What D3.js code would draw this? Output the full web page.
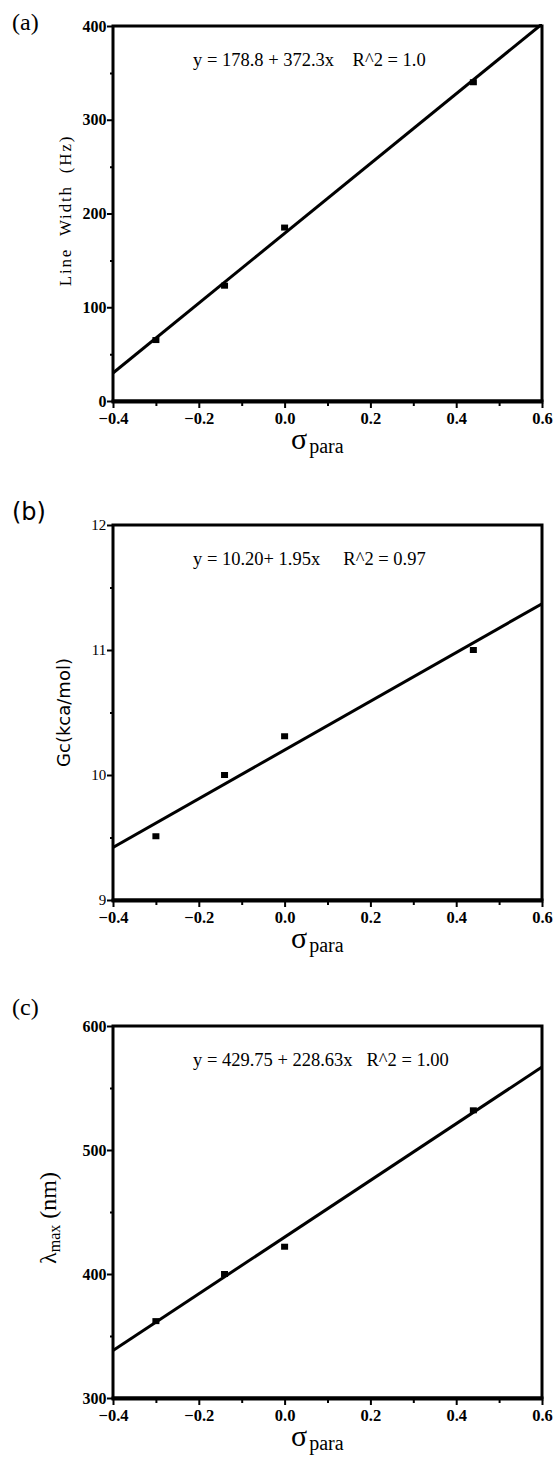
<!DOCTYPE html>
<html>
<head>
<meta charset="utf-8">
<script src="https://cdn.jsdelivr.net/npm/d3@7"></script>
<style>
html,body{margin:0;padding:0;background:#fff;}
svg{display:block;}
text{fill:#000;}
</style>
</head>
<body>
<svg id="chart" width="555" height="1458"></svg>
<script>
// ---- data ----
const sigmaPara = [-0.30, -0.14, 0.00, 0.44];
const lineWidthHz = [65, 123, 185, 340];
const gcKcal = [9.51, 10.00, 10.31, 11.00];
const lambdaMax = [362, 400, 422, 532];

const fitA = {a: 178.8, b: 372.3};
const fitB = {a: 10.20, b: 1.95};
const fitC = {a: 429.75, b: 228.63};

const eqA = "y = 178.8 + 372.3x    R^2 = 1.0";
const eqB = "y = 10.20+ 1.95x     R^2 = 0.97";
const eqC = "y = 429.75 + 228.63x   R^2 = 1.00";

const xDomain = [-0.4, 0.6];
const xTicks = [-0.4, -0.2, 0.0, 0.2, 0.4, 0.6];
const xMinor = [-0.3, -0.1, 0.1, 0.3, 0.5];

const yDomainA = [0, 400], yTicksA = [0, 100, 200, 300, 400], yMinorA = [50, 150, 250, 350];
const yDomainB = [9, 12], yTicksB = [9, 10, 11, 12], yMinorB = [9.5, 10.5, 11.5];
const yDomainC = [300, 600], yTicksC = [300, 400, 500, 600], yMinorC = [350, 450, 550];

const svg = d3.select("#chart");
const L = 113, R = 542;
const serif = "'Liberation Serif', 'DejaVu Serif', serif";
const sans = "'DejaVu Sans', 'Liberation Sans', sans-serif";

function panel(cfg) {
  const x = d3.scaleLinear().domain(xDomain).range([L, R]);
  const y = d3.scaleLinear().domain(cfg.yDomain).range([cfg.bottom, cfg.top]);
  const g = svg.append("g");

  // frame
  g.append("rect").attr("x", L).attr("y", cfg.top).attr("width", R - L).attr("height", cfg.bottom - cfg.top)
    .attr("fill", "none").attr("stroke", "#000").attr("stroke-width", 3);
  g.append("line").attr("x1", L - 1.5).attr("x2", R + 1.5).attr("y1", cfg.bottom + 0.5).attr("y2", cfg.bottom + 0.5)
    .attr("stroke", "#000").attr("stroke-width", 4);

  // x axis
  const xa = g.append("g").attr("transform", `translate(0,${cfg.bottom + 2})`)
    .call(d3.axisBottom(x).tickValues(xTicks).tickSize(5).tickPadding(4).tickFormat(d3.format(".1f")));
  xa.select(".domain").remove();
  xa.attr("font-family", null).attr("font-size", null);
  xa.selectAll(".tick line").attr("stroke-width", 2);
  xa.selectAll(".tick text")
    .style("font-family", serif).style("font-size", "16.5px").style("font-weight", "bold");
  const xm = g.append("g").attr("transform", `translate(0,${cfg.bottom + 2})`)
    .call(d3.axisBottom(x).tickValues(xMinor).tickSize(3).tickFormat(""));
  xm.select(".domain").remove();
  xm.selectAll(".tick line").attr("stroke-width", 2);

  // y axis
  const ya = g.append("g").attr("transform", `translate(${L - 1},0)`)
    .call(d3.axisLeft(y).tickValues(cfg.yTicks).tickSize(5).tickFormat(d3.format("d")));
  ya.select(".domain").remove();
  ya.attr("font-family", null).attr("font-size", null);
  ya.selectAll(".tick line").attr("stroke-width", 2);
  ya.selectAll(".tick text")
    .style("font-family", serif).style("font-size", cfg.tickBold === false ? "15px" : "16px")
    .style("font-weight", cfg.tickBold === false ? "normal" : "bold").attr("dx", "0.15em");
  const ym = g.append("g").attr("transform", `translate(${L - 1},0)`)
    .call(d3.axisLeft(y).tickValues(cfg.yMinor).tickSize(2).tickFormat(""));
  ym.select(".domain").remove();
  ym.selectAll(".tick line").attr("stroke-width", 2);

  // fit line
  const clipId = "clip" + cfg.id;
  svg.append("clipPath").attr("id", clipId).append("rect")
    .attr("x", L).attr("y", cfg.top - 2).attr("width", R - L).attr("height", cfg.bottom - cfg.top + 2);
  g.append("line").attr("clip-path", `url(#${clipId})`)
    .attr("x1", x(xDomain[0])).attr("y1", y(cfg.fit.a + cfg.fit.b * xDomain[0]))
    .attr("x2", x(xDomain[1])).attr("y2", y(cfg.fit.a + cfg.fit.b * xDomain[1]))
    .attr("stroke", "#000").attr("stroke-width", 3);

  // points
  g.selectAll(".pt").data(sigmaPara.map((s, i) => [s, cfg.values[i]])).enter().append("rect")
    .attr("x", d => x(d[0]) - 3.5).attr("y", d => y(d[1]) - 3)
    .attr("width", 7).attr("height", 6).attr("fill", "#000");

  // equation
  g.append("text").attr("x", 193).attr("y", cfg.top + 40)
    .style("font-family", serif).style("font-size", "18.5px").style("white-space", "pre")
    .text(cfg.eq);

  // panel label
  g.append("text").attr("x", 12).attr("y", cfg.labelY)
    .style("font-family", cfg.labelFont).style("font-size", "24px").text(cfg.label);

  // x label
  const xl = g.append("text").attr("x", 291).attr("y", cfg.bottom + 48).style("font-family", serif);
  xl.append("tspan").style("font-size", "30px").text("σ");
  xl.append("tspan").style("font-size", "20px").attr("dy", 4).attr("dx", 2).text("para");

  // y label
  cfg.yLabel(g, (cfg.top + cfg.bottom) / 2);
}

panel({
  id: "a", top: 26, bottom: 401, yDomain: yDomainA, yTicks: yTicksA, yMinor: yMinorA,
  values: lineWidthHz, fit: fitA, eq: eqA, label: "(a)", labelY: 30, labelFont: serif,
  yLabel: (g, cy) => {
    g.append("text").attr("transform", `translate(71,${cy - 3}) rotate(-90)`).attr("text-anchor", "middle")
      .style("font-family", serif).style("font-size", "17px").style("letter-spacing", "1.8px")
      .style("white-space", "pre").text("Line  Width  (Hz)");
  }
});

panel({
  id: "b", top: 525, bottom: 900, yDomain: yDomainB, yTicks: yTicksB, yMinor: yMinorB,
  values: gcKcal, fit: fitB, eq: eqB, label: "(b)", labelY: 520, labelFont: sans, tickBold: false,
  yLabel: (g, cy) => {
    g.append("text").attr("transform", `translate(70,${cy}) rotate(-90)`).attr("text-anchor", "middle")
      .style("font-family", sans).style("font-size", "18px").text("Gc(kca/mol)");
  }
});

panel({
  id: "c", top: 1026, bottom: 1398, yDomain: yDomainC, yTicks: yTicksC, yMinor: yMinorC,
  values: lambdaMax, fit: fitC, eq: eqC, label: "(c)", labelY: 1015, labelFont: serif,
  yLabel: (g, cy) => {
    const t = g.append("text").attr("transform", `translate(56,${cy + 6}) rotate(-90)`).attr("text-anchor", "middle")
      .style("font-family", serif).style("font-size", "24px").style("white-space", "pre");
    t.append("tspan").text("λ");
    t.append("tspan").style("font-size", "16px").attr("dy", 4).text("max");
    t.append("tspan").attr("dy", -4).text(" (nm)");
  }
});
</script>
</body>
</html>
